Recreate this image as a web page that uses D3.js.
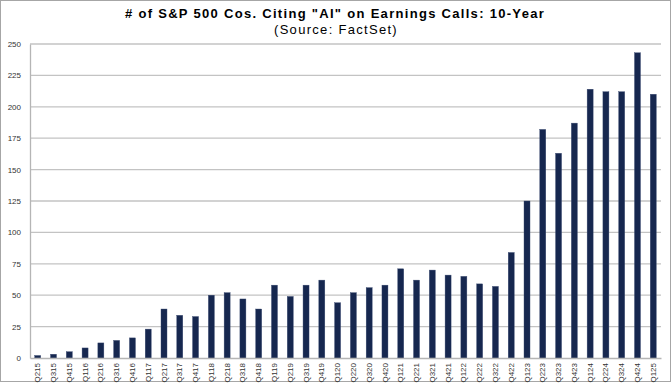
<!DOCTYPE html>
<html>
<head>
<meta charset="utf-8">
<script src="https://cdn.jsdelivr.net/npm/d3@7"></script>
<style>
  body { margin: 0; background: #fff; }
  svg { display: block; font-family: "Liberation Sans", Arial, sans-serif; }
</style>
</head>
<body>
<svg id="svg" width="672" height="385"></svg>
<script>
(function() {
  'use strict';

  // quarters, Q2 2015 .. Q1 2025
  var quarters = ["Q215","Q315","Q415","Q116","Q216","Q316","Q416","Q117","Q217","Q317",
    "Q417","Q118","Q218","Q318","Q418","Q119","Q219","Q319","Q419","Q120",
    "Q220","Q320","Q420","Q121","Q221","Q321","Q421","Q122","Q222","Q322",
    "Q422","Q123","Q223","Q323","Q423","Q124","Q224","Q324","Q424","Q125"];

  // number of companies citing "AI"
  var counts = [2, 3, 5, 8, 12, 14, 16, 23, 39, 34,
    33, 50, 52, 47, 39, 58, 49, 58, 62, 44,
    52, 56, 58, 71, 62, 70, 66, 65, 59, 57,
    84, 125, 182, 163, 187, 214, 212, 212, 243, 210];

  var yTicks = [0, 25, 50, 75, 100, 125, 150, 175, 200, 225, 250];

  var svg = d3.select("#svg");

  // outer frame
  svg.append("rect")
    .attr("x", 0.5).attr("y", 0.5)
    .attr("width", 670).attr("height", 381)
    .attr("fill", "#fff")
    .attr("stroke", "#a6a6a6");

  var left = 30, right = 661, top = 44, bottom = 358;

  var x = d3.scaleBand()
    .domain(quarters)
    .range([left, right])
    .paddingInner(0.62)
    .paddingOuter(0.3);

  var y = d3.scaleLinear()
    .domain([0, 250])
    .range([bottom, top]);

  // title (the original is set quite wide)
  svg.append("text")
    .attr("x", 335).attr("y", 18)
    .attr("text-anchor", "middle")
    .attr("font-size", "13px")
    .attr("font-weight", "bold")
    .attr("letter-spacing", "1.3px")
    .attr("fill", "#000")
    .text('# of S&P 500 Cos. Citing "AI" on Earnings Calls: 10-Year');

  svg.append("text")
    .attr("x", 336).attr("y", 34)
    .attr("text-anchor", "middle")
    .attr("font-size", "13px")
    .attr("letter-spacing", "1.3px")
    .attr("fill", "#000")
    .text("(Source: FactSet)");

  // gridlines
  svg.append("g")
    .selectAll("line")
    .data(yTicks.filter(function(d) { return d > 0; }))
    .join("line")
    .attr("x1", left).attr("x2", right)
    .attr("y1", function(d) { return y(d); })
    .attr("y2", function(d) { return y(d); })
    .attr("stroke", "#c3c3c3")
    .attr("stroke-width", 1.3);

  // y axis
  var yAxis = svg.append("g")
    .attr("transform", "translate(" + left + ",0)")
    .call(d3.axisLeft(y).tickValues(yTicks).tickSize(0).tickPadding(9));
  yAxis.select(".domain").attr("stroke", "#b5b5b5").attr("stroke-width", 1.3);
  yAxis.selectAll("text")
    .attr("font-size", "8px")
    .attr("font-family", "Liberation Sans, Arial, sans-serif")
    .attr("fill", "#333");

  // bars
  svg.append("g")
    .selectAll("rect")
    .data(counts)
    .join("rect")
    .attr("x", function(d, i) { return x(quarters[i]); })
    .attr("y", function(d) { return y(d); })
    .attr("width", x.bandwidth())
    .attr("height", function(d) { return y(0) - y(d); })
    .attr("fill", "#16274f")
    .attr("stroke", "#3a4a70")
    .attr("stroke-width", 0.4);

  // x axis
  var xAxis = svg.append("g")
    .attr("transform", "translate(0," + bottom + ")")
    .call(d3.axisBottom(x).tickSize(0).tickPadding(4));
  xAxis.select(".domain").attr("stroke", "#b5b5b5").attr("stroke-width", 1.3);
  xAxis.selectAll("text")
    .attr("font-size", "8px")
    .attr("font-family", "Liberation Sans, Arial, sans-serif")
    .attr("fill", "#333")
    .attr("text-anchor", "end")
    .attr("dy", "0.32em")
    .attr("transform", "translate(0,5) rotate(-90)")
    .attr("x", 0).attr("y", 0);
}());
</script>
</body>
</html>
